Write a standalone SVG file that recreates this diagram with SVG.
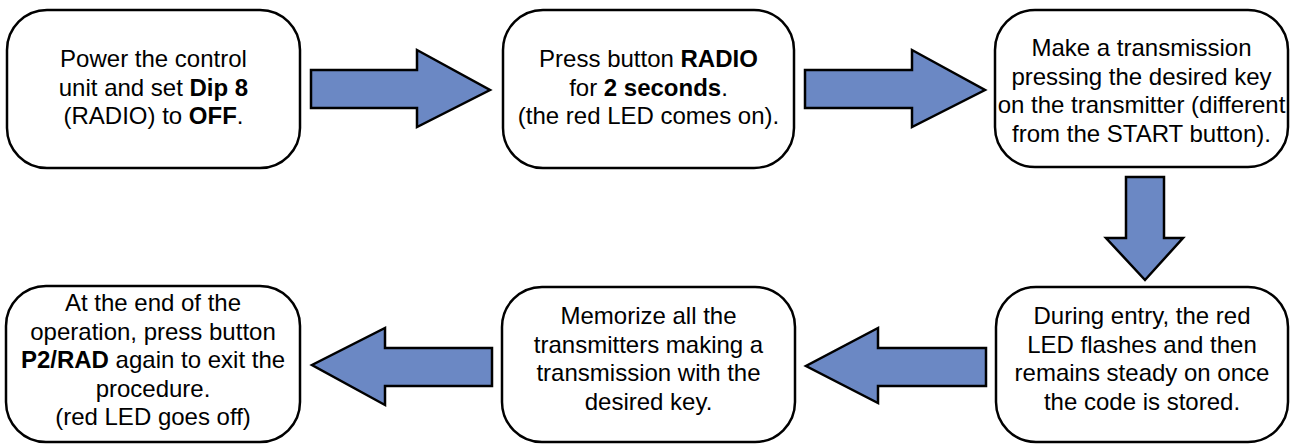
<svg xmlns="http://www.w3.org/2000/svg" width="1298" height="445" viewBox="0 0 1298 445">
<style>
.box{fill:#fff;stroke:#000;stroke-width:2.5}
.arr{fill:#6b88c4;stroke:#000;stroke-width:2.5;stroke-linejoin:miter}
text{font-family:"Liberation Sans",Arial,sans-serif;font-size:24px;fill:#000;text-anchor:middle}
.b{font-weight:bold}
</style>
<g id="connectors">
<path class="arr" d="M311,70 H417 V50 L490,90 L417,127 V108 H311 Z"/>
<path class="arr" d="M805,70 H912 V50 L985,90 L912,127 V108 H805 Z"/>
<path class="arr" d="M1126,177 H1164 V238 H1183 L1145,280 L1106,238 H1126 Z"/>
<path class="arr" d="M986,348 H878 V328 L806,366 L878,403 V386 H986 Z"/>
<path class="arr" d="M492,348 H385 V328 L312,365 L385,405 V386 H492 Z"/>
</g>
<g id="n1">
<rect class="box" x="7" y="10" width="293" height="158" rx="40"/>
<text x="153.5" y="67">Power the control</text>
<text x="153.5" y="95.5">unit and set <tspan class="b">Dip 8</tspan></text>
<text x="153.5" y="124">(RADIO) to <tspan class="b">OFF</tspan>.</text>
</g>
<g id="n2">
<rect class="box" x="503" y="10" width="291" height="158" rx="40"/>
<text x="648.5" y="67">Press button <tspan class="b">RADIO</tspan></text>
<text x="648.5" y="95.5">for <tspan class="b">2 seconds</tspan>.</text>
<text x="648.5" y="124">(the red LED comes on).</text>
</g>
<g id="n3">
<rect class="box" x="995" y="10" width="293" height="157" rx="40"/>
<text x="1141.5" y="56">Make a transmission</text>
<text x="1141.5" y="84.5">pressing the desired key</text>
<text x="1141.5" y="113">on the transmitter (different</text>
<text x="1141.5" y="141.5">from the START button).</text>
</g>
<g id="n4">
<rect class="box" x="996" y="287" width="292" height="155" rx="40"/>
<text x="1142" y="324">During entry, the red</text>
<text x="1142" y="352.5">LED flashes and then</text>
<text x="1142" y="381">remains steady on once</text>
<text x="1142" y="409.5">the code is stored.</text>
</g>
<g id="n5">
<rect class="box" x="502" y="287" width="293" height="155" rx="40"/>
<text x="648.5" y="324">Memorize all the</text>
<text x="648.5" y="352.5">transmitters making a</text>
<text x="648.5" y="381">transmission with the</text>
<text x="648.5" y="409.5">desired key.</text>
</g>
<g id="n6">
<rect class="box" x="6" y="286" width="294" height="156" rx="40"/>
<text x="153" y="311">At the end of the</text>
<text x="153" y="339.5">operation, press button</text>
<text x="153" y="368"><tspan class="b">P2/RAD</tspan> again to exit the</text>
<text x="153" y="396.5">procedure.</text>
<text x="153" y="425">(red LED goes off)</text>
</g>
</svg>
